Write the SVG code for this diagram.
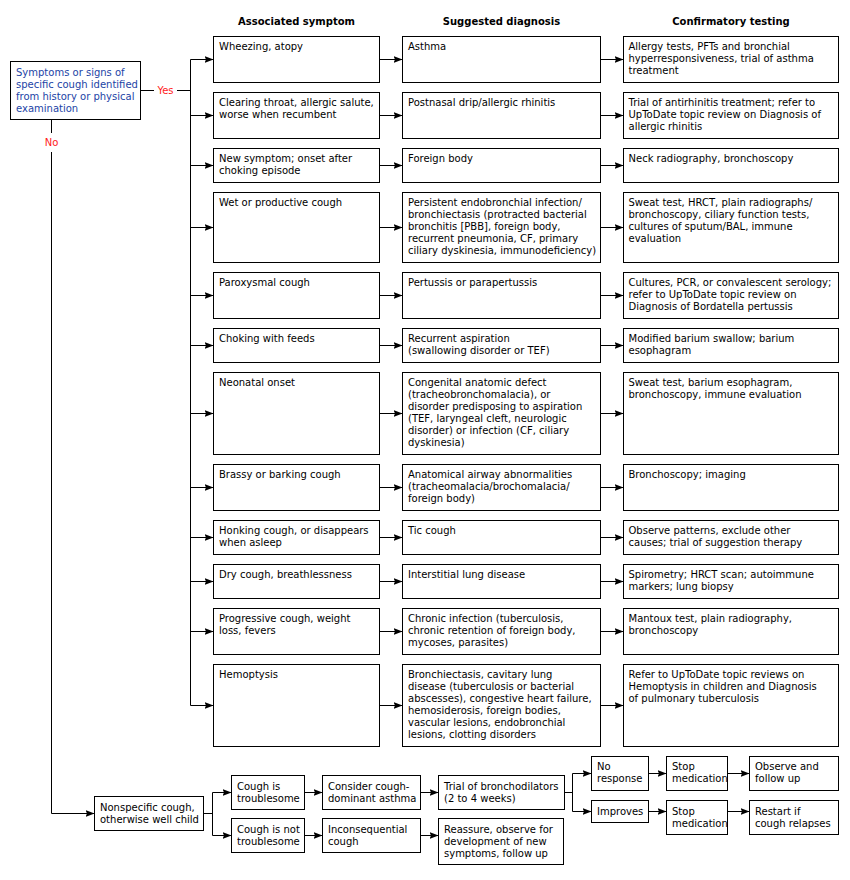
<svg xmlns="http://www.w3.org/2000/svg" width="850" height="880" viewBox="0 0 850 880">
<defs>
<marker id="ah" markerUnits="userSpaceOnUse" markerWidth="10" markerHeight="8" refX="9" refY="3.5" orient="auto">
<path d="M0,0 L9,3.5 L0,7 L1.5,3.5 z" fill="#000"/>
</marker>
<style>
rect{fill:#fff;stroke:#000;stroke-width:1}
text{font-family:"DejaVu Sans","Verdana",sans-serif;font-size:10px;fill:#000}
.h{font-weight:bold;text-anchor:middle}
.blue{fill:#1c44a6}
.red{fill:#ff1a1a;text-anchor:middle}
.c line,.c path{stroke:#000;stroke-width:1;fill:none}
.c .a{marker-end:url(#ah)}
</style>
</defs>
<rect x="0" y="0" width="850" height="880" style="stroke:none;fill:#fff"/>
<g id="headers">
<text class="h" x="296.5" y="25">Associated symptom</text>
<text class="h" x="501.5" y="25">Suggested diagnosis</text>
<text class="h" x="731" y="25">Confirmatory testing</text>
</g>
<g class="c" id="connectors">
<path d="M140.5,90.5 H154 M177,90.5 H190.5"/>
<path d="M190.5,59.5 V705.5"/>
<path class="a" d="M190.5,59.5 H213.5"/><path class="a" d="M379.5,59.5 H402.5"/><path class="a" d="M600.5,59.5 H623.5"/>
<path class="a" d="M190.5,115.5 H213.5"/><path class="a" d="M379.5,115.5 H402.5"/><path class="a" d="M600.5,115.5 H623.5"/>
<path class="a" d="M190.5,165.5 H213.5"/><path class="a" d="M379.5,165.5 H402.5"/><path class="a" d="M600.5,165.5 H623.5"/>
<path class="a" d="M190.5,227.5 H213.5"/><path class="a" d="M379.5,227.5 H402.5"/><path class="a" d="M600.5,227.5 H623.5"/>
<path class="a" d="M190.5,295.5 H213.5"/><path class="a" d="M379.5,295.5 H402.5"/><path class="a" d="M600.5,295.5 H623.5"/>
<path class="a" d="M190.5,345.5 H213.5"/><path class="a" d="M379.5,345.5 H402.5"/><path class="a" d="M600.5,345.5 H623.5"/>
<path class="a" d="M190.5,413.5 H213.5"/><path class="a" d="M379.5,413.5 H402.5"/><path class="a" d="M600.5,413.5 H623.5"/>
<path class="a" d="M190.5,487.5 H213.5"/><path class="a" d="M379.5,487.5 H402.5"/><path class="a" d="M600.5,487.5 H623.5"/>
<path class="a" d="M190.5,537.5 H213.5"/><path class="a" d="M379.5,537.5 H402.5"/><path class="a" d="M600.5,537.5 H623.5"/>
<path class="a" d="M190.5,581.5 H213.5"/><path class="a" d="M379.5,581.5 H402.5"/><path class="a" d="M600.5,581.5 H623.5"/>
<path class="a" d="M190.5,631.5 H213.5"/><path class="a" d="M379.5,631.5 H402.5"/><path class="a" d="M600.5,631.5 H623.5"/>
<path class="a" d="M190.5,705.5 H213.5"/><path class="a" d="M379.5,705.5 H402.5"/><path class="a" d="M600.5,705.5 H623.5"/>
<path d="M51.5,119.5 V133"/>
<path class="a" d="M51.5,152 V813.5 H94.5"/>
<path d="M203.5,813.5 H212.5 M212.5,792.5 V835.5"/>
<path class="a" d="M212.5,792.5 H231.5"/><path class="a" d="M212.5,835.5 H231.5"/>
<path class="a" d="M304.5,792.5 H322.5"/><path class="a" d="M304.5,835.5 H322.5"/>
<path class="a" d="M420.5,792.5 H438.5"/><path class="a" d="M420.5,835.5 H438.5"/>
<path d="M564.5,792.5 H572.5 M572.5,773.5 V811.5"/>
<path class="a" d="M572.5,773.5 H591.5"/><path class="a" d="M572.5,811.5 H591.5"/>
<path class="a" d="M648.5,773.5 H666.5"/><path class="a" d="M648.5,811.5 H666.5"/>
<path class="a" d="M727.5,773.5 H749.5"/><path class="a" d="M727.5,811.5 H749.5"/>
</g>
<g id="labels">
<text class="red" x="165.5" y="93.5">Yes</text>
<text class="red" x="51.5" y="146">No</text>
</g>
<g id="start">
<rect x="10.5" y="61.5" width="130" height="58"/>
<text class="blue" x="16" y="75.5">Symptoms or signs of</text>
<text class="blue" x="16" y="87.5">specific cough identified</text>
<text class="blue" x="16" y="99.5">from history or physical</text>
<text class="blue" x="16" y="111.5">examination</text>
</g>
<g id="s1"><rect x="213.5" y="36.5" width="166" height="46"/><text x="219" y="50">Wheezing, atopy</text></g>
<g id="d1"><rect x="402.5" y="36.5" width="198" height="46"/><text x="408" y="50">Asthma</text></g>
<g id="t1"><rect x="623.5" y="36.5" width="215" height="46"/><text x="628.5" y="50">Allergy tests, PFTs and bronchial</text><text x="628.5" y="62">hyperresponsiveness, trial of asthma</text><text x="628.5" y="74">treatment</text></g>
<g id="s2"><rect x="213.5" y="92.5" width="166" height="46"/><text x="219" y="106">Clearing throat, allergic salute,</text><text x="219" y="118">worse when recumbent</text></g>
<g id="d2"><rect x="402.5" y="92.5" width="198" height="46"/><text x="408" y="106">Postnasal drip/allergic rhinitis</text></g>
<g id="t2"><rect x="623.5" y="92.5" width="215" height="46"/><text x="628.5" y="106">Trial of antirhinitis treatment; refer to</text><text x="628.5" y="118">UpToDate topic review on Diagnosis of</text><text x="628.5" y="130">allergic rhinitis</text></g>
<g id="s3"><rect x="213.5" y="148.5" width="166" height="34"/><text x="219" y="162">New symptom; onset after</text><text x="219" y="174">choking episode</text></g>
<g id="d3"><rect x="402.5" y="148.5" width="198" height="34"/><text x="408" y="162">Foreign body</text></g>
<g id="t3"><rect x="623.5" y="148.5" width="215" height="34"/><text x="628.5" y="162">Neck radiography, bronchoscopy</text></g>
<g id="s4"><rect x="213.5" y="192.5" width="166" height="70"/><text x="219" y="206">Wet or productive cough</text></g>
<g id="d4"><rect x="402.5" y="192.5" width="198" height="70"/><text x="408" y="206">Persistent endobronchial infection/</text><text x="408" y="218">bronchiectasis (protracted bacterial</text><text x="408" y="230">bronchitis [PBB], foreign body,</text><text x="408" y="242">recurrent pneumonia, CF, primary</text><text x="408" y="254">ciliary dyskinesia, immunodeficiency)</text></g>
<g id="t4"><rect x="623.5" y="192.5" width="215" height="70"/><text x="628.5" y="206">Sweat test, HRCT, plain radiographs/</text><text x="628.5" y="218">bronchoscopy, ciliary function tests,</text><text x="628.5" y="230">cultures of sputum/BAL, immune</text><text x="628.5" y="242">evaluation</text></g>
<g id="s5"><rect x="213.5" y="272.5" width="166" height="46"/><text x="219" y="286">Paroxysmal cough</text></g>
<g id="d5"><rect x="402.5" y="272.5" width="198" height="46"/><text x="408" y="286">Pertussis or parapertussis</text></g>
<g id="t5"><rect x="623.5" y="272.5" width="215" height="46"/><text x="628.5" y="286">Cultures, PCR, or convalescent serology;</text><text x="628.5" y="298">refer to UpToDate topic review on</text><text x="628.5" y="310">Diagnosis of Bordatella pertussis</text></g>
<g id="s6"><rect x="213.5" y="328.5" width="166" height="34"/><text x="219" y="342">Choking with feeds</text></g>
<g id="d6"><rect x="402.5" y="328.5" width="198" height="34"/><text x="408" y="342">Recurrent aspiration</text><text x="408" y="354">(swallowing disorder or TEF)</text></g>
<g id="t6"><rect x="623.5" y="328.5" width="215" height="34"/><text x="628.5" y="342">Modified barium swallow; barium</text><text x="628.5" y="354">esophagram</text></g>
<g id="s7"><rect x="213.5" y="372.5" width="166" height="82"/><text x="219" y="386">Neonatal onset</text></g>
<g id="d7"><rect x="402.5" y="372.5" width="198" height="82"/><text x="408" y="386">Congenital anatomic defect</text><text x="408" y="398">(tracheobronchomalacia), or</text><text x="408" y="410">disorder predisposing to aspiration</text><text x="408" y="422">(TEF, laryngeal cleft, neurologic</text><text x="408" y="434">disorder) or infection (CF, ciliary</text><text x="408" y="446">dyskinesia)</text></g>
<g id="t7"><rect x="623.5" y="372.5" width="215" height="82"/><text x="628.5" y="386">Sweat test, barium esophagram,</text><text x="628.5" y="398">bronchoscopy, immune evaluation</text></g>
<g id="s8"><rect x="213.5" y="464.5" width="166" height="46"/><text x="219" y="478">Brassy or barking cough</text></g>
<g id="d8"><rect x="402.5" y="464.5" width="198" height="46"/><text x="408" y="478">Anatomical airway abnormalities</text><text x="408" y="490">(tracheomalacia/brochomalacia/</text><text x="408" y="502">foreign body)</text></g>
<g id="t8"><rect x="623.5" y="464.5" width="215" height="46"/><text x="628.5" y="478">Bronchoscopy; imaging</text></g>
<g id="s9"><rect x="213.5" y="520.5" width="166" height="34"/><text x="219" y="534">Honking cough, or disappears</text><text x="219" y="546">when asleep</text></g>
<g id="d9"><rect x="402.5" y="520.5" width="198" height="34"/><text x="408" y="534">Tic cough</text></g>
<g id="t9"><rect x="623.5" y="520.5" width="215" height="34"/><text x="628.5" y="534">Observe patterns, exclude other</text><text x="628.5" y="546">causes; trial of suggestion therapy</text></g>
<g id="s10"><rect x="213.5" y="564.5" width="166" height="34"/><text x="219" y="578">Dry cough, breathlessness</text></g>
<g id="d10"><rect x="402.5" y="564.5" width="198" height="34"/><text x="408" y="578">Interstitial lung disease</text></g>
<g id="t10"><rect x="623.5" y="564.5" width="215" height="34"/><text x="628.5" y="578">Spirometry; HRCT scan; autoimmune</text><text x="628.5" y="590">markers; lung biopsy</text></g>
<g id="s11"><rect x="213.5" y="608.5" width="166" height="46"/><text x="219" y="622">Progressive cough, weight</text><text x="219" y="634">loss, fevers</text></g>
<g id="d11"><rect x="402.5" y="608.5" width="198" height="46"/><text x="408" y="622">Chronic infection (tuberculosis,</text><text x="408" y="634">chronic retention of foreign body,</text><text x="408" y="646">mycoses, parasites)</text></g>
<g id="t11"><rect x="623.5" y="608.5" width="215" height="46"/><text x="628.5" y="622">Mantoux test, plain radiography,</text><text x="628.5" y="634">bronchoscopy</text></g>
<g id="s12"><rect x="213.5" y="664.5" width="166" height="82"/><text x="219" y="678">Hemoptysis</text></g>
<g id="d12"><rect x="402.5" y="664.5" width="198" height="82"/><text x="408" y="678">Bronchiectasis, cavitary lung</text><text x="408" y="690">disease (tuberculosis or bacterial</text><text x="408" y="702">abscesses), congestive heart failure,</text><text x="408" y="714">hemosiderosis, foreign bodies,</text><text x="408" y="726">vascular lesions, endobronchial</text><text x="408" y="738">lesions, clotting disorders</text></g>
<g id="t12"><rect x="623.5" y="664.5" width="215" height="82"/><text x="628.5" y="678">Refer to UpToDate topic reviews on</text><text x="628.5" y="690">Hemoptysis in children and Diagnosis</text><text x="628.5" y="702">of pulmonary tuberculosis</text></g>
<g id="nonspecific"><rect x="94.5" y="796.5" width="109" height="34"/><text x="100" y="810.5">Nonspecific cough,</text><text x="100" y="822.5">otherwise well child</text></g>
<g id="troublesome"><rect x="231.5" y="775.5" width="73" height="34"/><text x="237" y="789.5">Cough is</text><text x="237" y="801.5">troublesome</text></g>
<g id="nottroublesome"><rect x="231.5" y="818.5" width="73" height="34"/><text x="237" y="832.5">Cough is not</text><text x="237" y="844.5">troublesome</text></g>
<g id="consider"><rect x="322.5" y="775.5" width="98" height="34"/><text x="328" y="789.5">Consider cough-</text><text x="328" y="801.5">dominant asthma</text></g>
<g id="inconsequential"><rect x="322.5" y="818.5" width="98" height="34"/><text x="328" y="832.5">Inconsequential</text><text x="328" y="844.5">cough</text></g>
<g id="trial"><rect x="438.5" y="775.5" width="126" height="34"/><text x="444" y="789.5">Trial of bronchodilators</text><text x="444" y="801.5">(2 to 4 weeks)</text></g>
<g id="reassure"><rect x="438.5" y="818.5" width="125" height="46"/><text x="444" y="832.5">Reassure, observe for</text><text x="444" y="844.5">development of new</text><text x="444" y="856.5">symptoms, follow up</text></g>
<g id="noresponse"><rect x="591.5" y="756.5" width="57" height="34"/><text x="597" y="770">No</text><text x="597" y="782">response</text></g>
<g id="improves"><rect x="591.5" y="800.5" width="57" height="22"/><text x="597" y="814.5">Improves</text></g>
<g id="stop1"><rect x="666.5" y="756.5" width="61" height="34"/><text x="672" y="770">Stop</text><text x="672" y="782">medication</text></g>
<g id="stop2"><rect x="666.5" y="800.5" width="61" height="34"/><text x="672" y="814.5">Stop</text><text x="672" y="826.5">medication</text></g>
<g id="observe"><rect x="749.5" y="756.5" width="89" height="34"/><text x="755" y="770">Observe and</text><text x="755" y="782">follow up</text></g>
<g id="restart"><rect x="749.5" y="800.5" width="89" height="34"/><text x="755" y="814.5">Restart if</text><text x="755" y="826.5">cough relapses</text></g>
</svg>
